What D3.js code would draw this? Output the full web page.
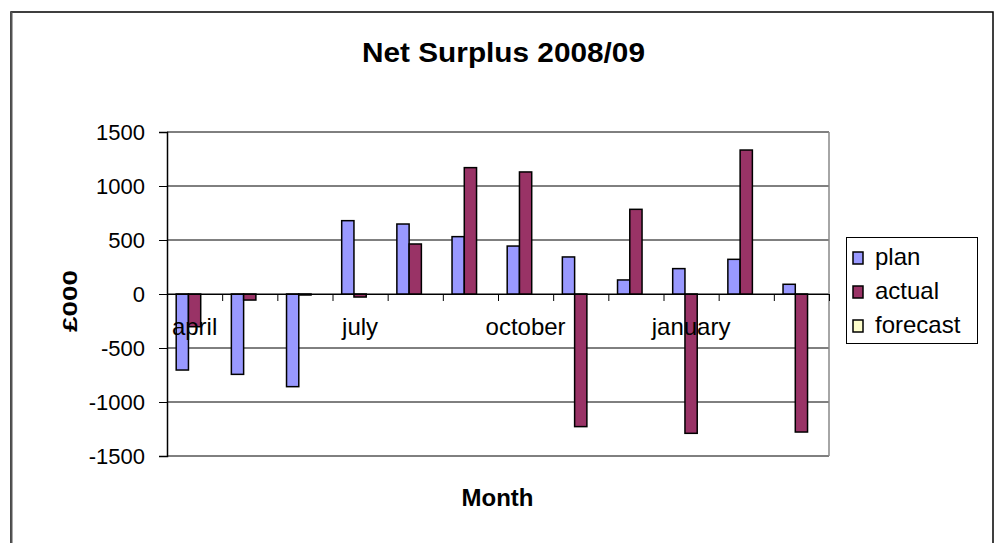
<!DOCTYPE html>
<html>
<head>
<meta charset="utf-8">
<script src="https://cdn.jsdelivr.net/npm/d3@7"></script>
<style>
  html, body { margin: 0; padding: 0; background: #fff; }
  text { font-family: "Liberation Sans", Arial, sans-serif; fill: #000; }
</style>
</head>
<body>
<svg id="chart" width="1000" height="543"></svg>
<script>
const months = ["april","may","june","july","august","september","october","november","december","january","february","march"];
const shownLabels = ["april","july","october","january"];
const seriesNames = ["plan","actual","forecast"];
const seriesColors = ["#9999FF","#993366","#FFFFCC"];
const plan = [-704, -744, -858, 679, 648, 531, 444, 343, 130, 235, 321, 90];
const actual = [-303, -56, -8, -28, 463, 1170, 1130, -1228, 784, -1290, 1333, -1278];
const forecast = [null, null, null, null, null, null, null, null, null, null, null, null];
const yTicks = [-1500, -1000, -500, 0, 500, 1000, 1500];
const titleText = "Net Surplus 2008/09";
const xTitle = "Month";
const yTitle = "£000";

const svg = d3.select("#chart");
const L = 167, R = 829, T = 132, B = 456;

// outer frame
svg.append("rect").attr("x", 11).attr("y", 12).attr("width", 982).attr("height", 560)
  .attr("fill", "#fff").attr("stroke", "#000").attr("stroke-width", 1.5);
svg.append("line").attr("x1", 11.5).attr("x2", 11.5).attr("y1", 12).attr("y2", 543)
  .attr("stroke", "#555").attr("stroke-width", 2);

const y = d3.scaleLinear().domain([-1500, 1500]).range([B, T]);
const x0 = d3.scaleBand().domain(months).range([L, R]).paddingInner(0).paddingOuter(0);
const x1 = d3.scaleBand().domain(seriesNames).range([0, x0.bandwidth()]).paddingInner(0).paddingOuter(0.75);
const xi = d3.scaleLinear().domain([0, months.length]).range([L, R]);

// gridlines
svg.append("g").selectAll("line").data(yTicks).join("line")
  .attr("x1", L).attr("x2", R).attr("y1", d => y(d)).attr("y2", d => y(d))
  .attr("stroke", "#000").attr("stroke-width", 1);
// right plot edge
svg.append("line").attr("x1", R).attr("x2", R).attr("y1", T).attr("y2", B)
  .attr("stroke", "#888").attr("stroke-width", 1.5);

// bars
const values = [plan, actual, forecast];
const barData = [];
months.forEach((m, i) => {
  seriesNames.forEach((s, k) => {
    const v = values[k][i];
    if (v !== null && v !== undefined) barData.push({ m, s, k, v });
  });
});
svg.append("g").selectAll("rect").data(barData).join("rect")
  .attr("x", d => x0(d.m) + x1(d.s))
  .attr("width", x1.bandwidth())
  .attr("y", d => y(Math.max(0, d.v)))
  .attr("height", d => Math.max(1, Math.abs(y(d.v) - y(0))))
  .attr("fill", d => seriesColors[d.k])
  .attr("stroke", "#000").attr("stroke-width", 1.5);

// y axis
const yAxis = svg.append("g").attr("transform", `translate(${L},0)`)
  .call(d3.axisLeft(y).tickValues(yTicks).tickSize(8).tickPadding(14).tickFormat(d => String(d)));
yAxis.select(".domain").attr("stroke", "#000").attr("stroke-width", 1.5);
yAxis.selectAll(".tick line").attr("stroke", "#000");
yAxis.selectAll("text").attr("font-size", 22).attr("font-family", "Liberation Sans, Arial, sans-serif").attr("fill", "#000");

// x axis at zero
const xAxis = svg.append("g").attr("transform", `translate(0,${y(0)})`)
  .call(d3.axisBottom(xi).tickValues(d3.range(1, months.length + 1)).tickSize(7).tickFormat(""));
xAxis.select(".domain").attr("stroke", "#000").attr("stroke-width", 1);
xAxis.selectAll(".tick line").attr("stroke", "#000");

// category labels
svg.append("g").selectAll("text").data(shownLabels).join("text")
  .attr("x", d => x0(d) + x0.bandwidth() / 2)
  .attr("y", 335)
  .attr("text-anchor", "middle")
  .attr("font-size", 24)
  .text(d => d);

// title
svg.append("text").attr("x", 503.5).attr("y", 62).attr("text-anchor", "middle")
  .attr("font-size", 27).attr("font-weight", "bold")
  .attr("textLength", 283).attr("lengthAdjust", "spacingAndGlyphs")
  .text(titleText);

// x title
svg.append("text").attr("x", 497.5).attr("y", 506).attr("text-anchor", "middle")
  .attr("font-size", 24).attr("font-weight", "bold").text(xTitle);

// y title
svg.append("text").attr("transform", "translate(77,301) rotate(-90)")
  .attr("text-anchor", "middle").attr("font-size", 21).attr("font-weight", "bold")
  .attr("textLength", 62).attr("lengthAdjust", "spacingAndGlyphs")
  .text(yTitle);

// legend
const lg = svg.append("g");
lg.append("rect").attr("x", 846.5).attr("y", 237.5).attr("width", 131).attr("height", 106)
  .attr("fill", "#fff").attr("stroke", "#000").attr("stroke-width", 1);
const legY = [265, 299, 333];
const items = lg.selectAll("g.item").data(seriesNames).join("g").attr("class", "item");
items.append("rect")
  .attr("x", 853).attr("y", (d, i) => legY[i] - 13).attr("width", 10).attr("height", 12)
  .attr("fill", (d, i) => seriesColors[i]).attr("stroke", "#000").attr("stroke-width", 1.5);
items.append("text")
  .attr("x", 875).attr("y", (d, i) => legY[i])
  .attr("font-size", 24)
  .text(d => d);
</script>
</body>
</html>
